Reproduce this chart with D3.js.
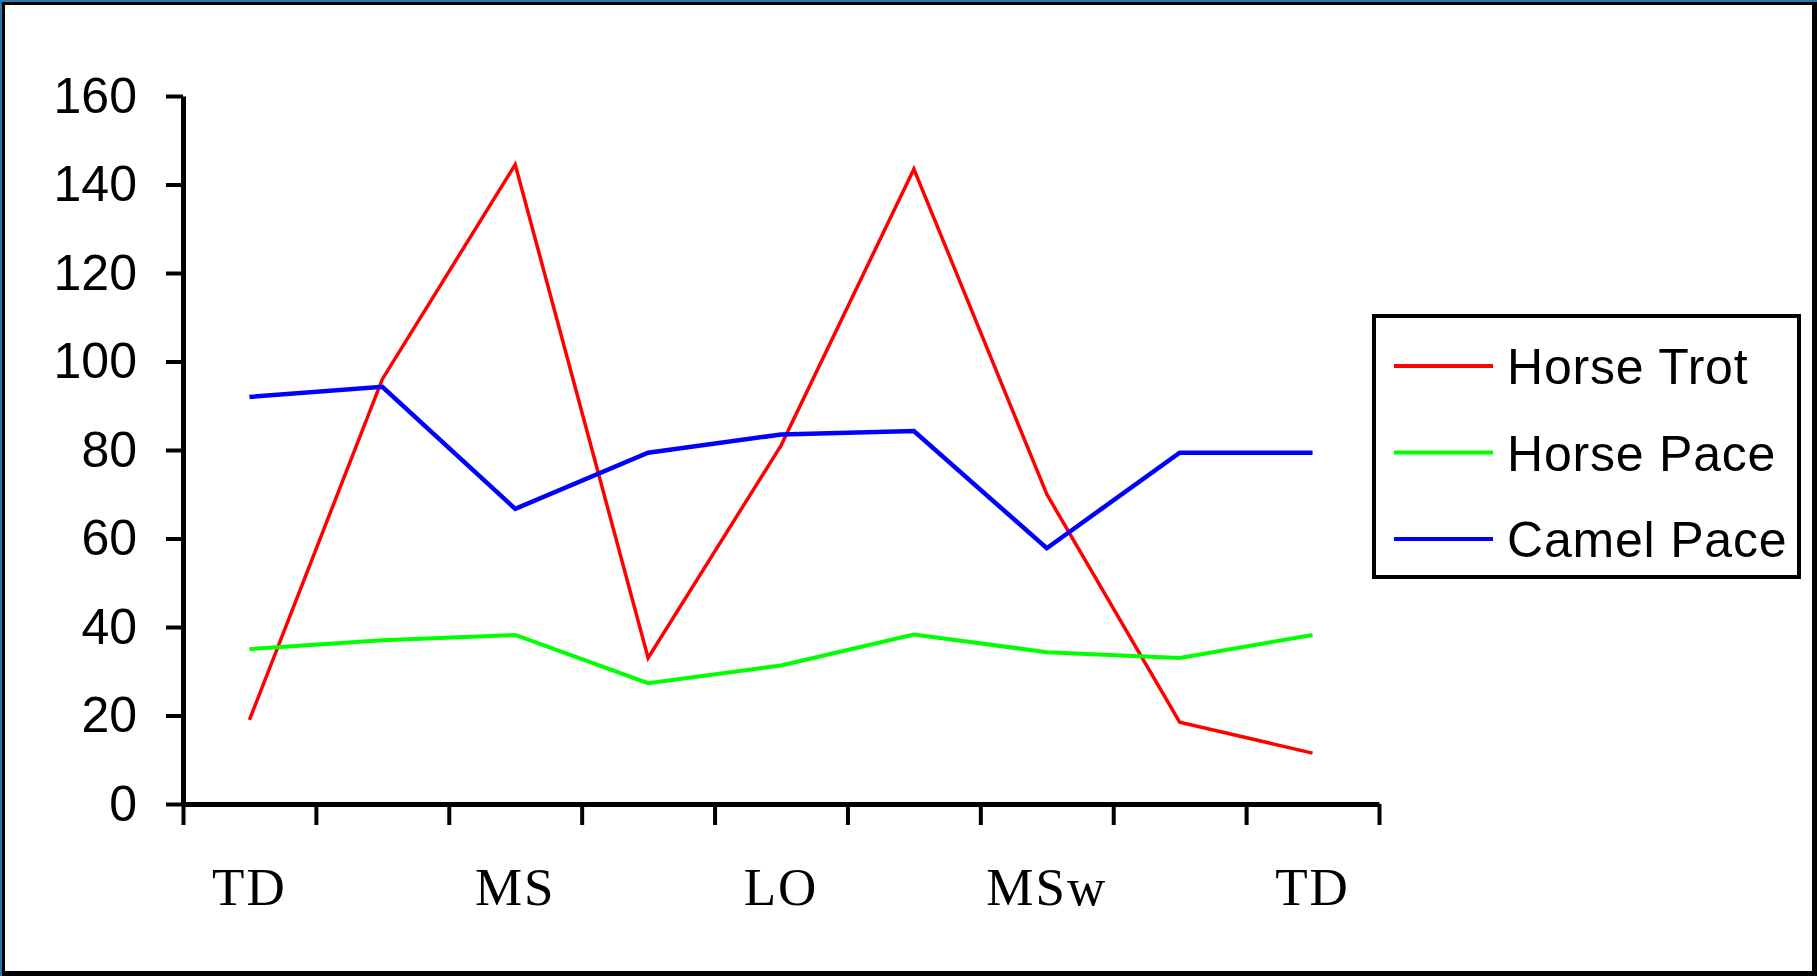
<!DOCTYPE html>
<html>
<head>
<meta charset="utf-8">
<script src="https://cdn.jsdelivr.net/npm/d3@7"></script>
<style>
  html, body { margin: 0; padding: 0; background: #fff; }
  svg { display: block; }
</style>
</head>
<body>
<div id="chart"></div>
<script>
// Gait phases along the stride cycle (every other position is labelled)
const categories = ["TD", "", "MS", "", "LO", "", "MSw", "", "TD"];

// Series values per stride position
const horseTrot = [19, 96, 144.5, 33, 81, 143.5, 70, 18.5, 11.5];
const horsePace = [35, 37, 38.2, 27.3, 31.3, 38.3, 34.3, 33, 38.2];
const camelPace = [92, 94.3, 66.7, 79.4, 83.5, 84.3, 57.8, 79.4, 79.4];

const seriesNames = ["Horse Trot", "Horse Pace", "Camel Pace"];
const seriesColors = ["#ff0000", "#00ff00", "#0000ff"];
const seriesWidths = [3.5, 4, 4.5];
const yTicks = [0, 20, 40, 60, 80, 100, 120, 140, 160];

const W = 1817, H = 976;
const plot = { left: 183, right: 1379, top: 96, bottom: 804 };

const svg = d3.select("#chart").append("svg")
  .attr("width", W).attr("height", H);

svg.append("rect").attr("width", W).attr("height", H).attr("fill", "#fff");

// Outer frame
svg.append("rect")
  .attr("x", 2.5).attr("y", 2.5)
  .attr("width", W - 5).attr("height", H - 5)
  .attr("fill", "none").attr("stroke", "#000").attr("stroke-width", 5);
svg.append("path")
  .attr("d", `M1,${H} V1 H${W}`)
  .attr("fill", "none").attr("stroke", "#2a78aa").attr("stroke-width", 2);

const idx = d3.range(categories.length);

// Band scale places points in the middle of each category slot
const x = d3.scaleBand().domain(idx).range([plot.left, plot.right]).padding(0);
// Linear scale over slot edges, used for the tick marks between slots
const xEdge = d3.scaleLinear().domain([0, categories.length]).range([plot.left, plot.right]);
const y = d3.scaleLinear().domain([0, 160]).range([plot.bottom, plot.top]);

// Y axis
const yAxis = svg.append("g")
  .attr("transform", `translate(${plot.left},0)`)
  .call(d3.axisLeft(y).tickValues(yTicks).tickSize(17).tickSizeOuter(0).tickPadding(29));
yAxis.select(".domain").attr("stroke", "#000").attr("stroke-width", 5);
yAxis.selectAll(".tick line").attr("stroke", "#000").attr("stroke-width", 4);
yAxis.selectAll(".tick text")
  .attr("font-family", "'Liberation Sans', Arial, sans-serif")
  .attr("font-size", 50).attr("fill", "#000");

// X axis: tick marks at slot edges
const xAxis = svg.append("g")
  .attr("transform", `translate(0,${plot.bottom})`)
  .call(d3.axisBottom(xEdge).tickValues(d3.range(categories.length + 1))
    .tickSize(21).tickSizeOuter(0).tickFormat(""));
xAxis.select(".domain").attr("stroke", "#000").attr("stroke-width", 5);
xAxis.selectAll(".tick line").attr("stroke", "#000").attr("stroke-width", 4);

// Category labels centred in their slots
const xLabels = svg.append("g")
  .attr("transform", `translate(0,905)`)
  .call(d3.axisBottom(x).tickSize(0).tickPadding(0).tickFormat(i => categories[i]));
xLabels.select(".domain").remove();
xLabels.selectAll(".tick text")
  .attr("y", 0).attr("dy", 0)
  .attr("font-family", "'Liberation Serif', 'Times New Roman', serif")
  .attr("font-size", 53).attr("letter-spacing", 2).attr("fill", "#000");

// Series lines
const series = [horseTrot, horsePace, camelPace];
const line = d3.line()
  .x((d, i) => x(i) + x.bandwidth() / 2)
  .y(d => y(d));

series.forEach((vals, s) => {
  svg.append("path")
    .datum(vals)
    .attr("d", line)
    .attr("fill", "none")
    .attr("stroke", seriesColors[s])
    .attr("stroke-width", seriesWidths[s])
    .attr("stroke-linejoin", "miter");
});

// Legend
const legend = svg.append("g");
legend.append("rect")
  .attr("x", 1374).attr("y", 316)
  .attr("width", 425).attr("height", 261)
  .attr("fill", "#fff").attr("stroke", "#000").attr("stroke-width", 4);

const legendY = d3.scalePoint().domain(seriesNames).range([366, 539]);
seriesNames.forEach((name, s) => {
  const ly = legendY(name);
  legend.append("line")
    .attr("x1", 1394).attr("x2", 1493)
    .attr("y1", ly).attr("y2", ly)
    .attr("stroke", seriesColors[s]).attr("stroke-width", 4);
  legend.append("text")
    .attr("x", 1507).attr("y", ly + 18)
    .attr("font-family", "'Liberation Sans', Arial, sans-serif")
    .attr("font-size", 50).attr("letter-spacing", 0.8).attr("fill", "#000")
    .text(name);
});
</script>
</body>
</html>
